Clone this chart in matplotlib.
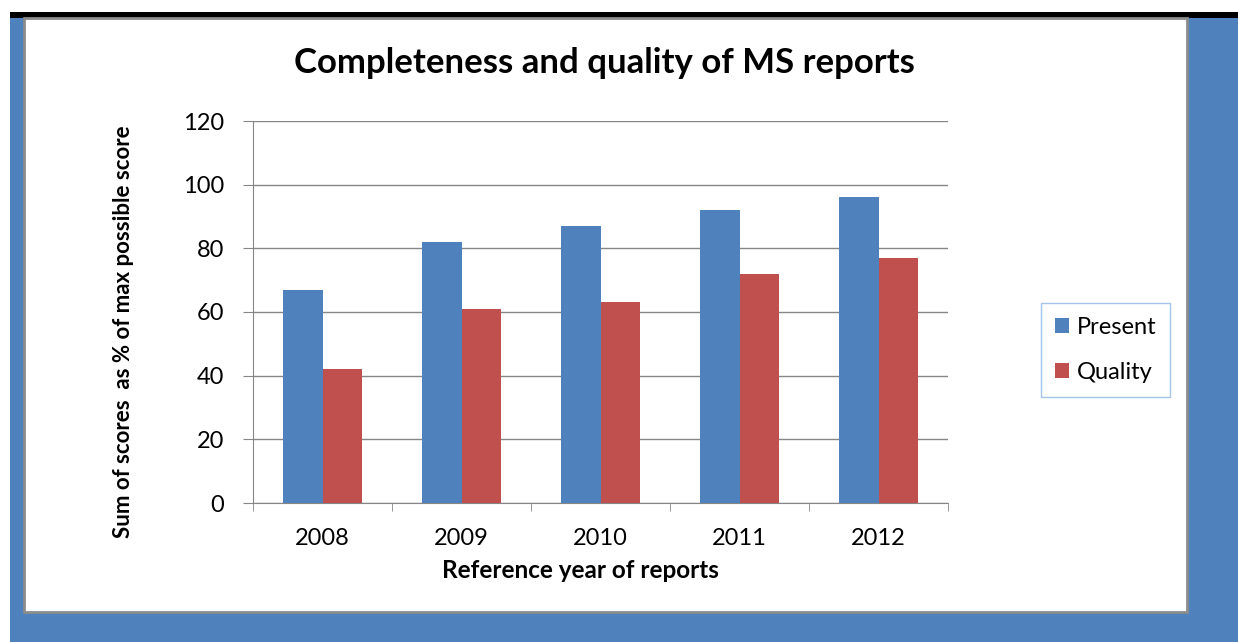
import matplotlib.pyplot as plt
import matplotlib.patches as patches
import numpy as np

# data
years = ["2008", "2009", "2010", "2011", "2012"]
present = [67, 82, 87, 92, 96]
quality = [42, 61, 63, 72, 77]
yticks = [0, 20, 40, 60, 80, 100, 120]

blue = "#4f81bd"
red = "#c0504d"

plt.rcParams['font.family'] = ['Lato', 'DejaVu Sans']

fig = plt.figure(figsize=(12.38, 6.42), dpi=100)
W, H = 1238, 642

def box(x0, y0, x1, y1, **kw):
    # rectangle in pixel coords (y from top)
    fig.patches.append(patches.Rectangle((x0 / W, 1 - y1 / H), (x1 - x0) / W, (y1 - y0) / H,
                                         transform=fig.transFigure, **kw))

# blue slide background, black line at top, white chart frame
box(10, 12, 1238, 642, facecolor=blue, edgecolor="none", zorder=0)
box(10, 12, 1238, 18, facecolor="black", edgecolor="none", zorder=1)
box(24, 18, 1187, 612, facecolor="white", edgecolor="#8c8c8c", linewidth=2, zorder=1)

ax = fig.add_axes([253 / W, 1 - 503 / H, (948 - 253) / W, (503 - 121) / H])
ax.set_zorder(2)
ax.patch.set_alpha(0)

x = np.arange(len(years))
w = 0.285
ax.bar(x - w / 2, present, w, color=blue, label="Present", zorder=3)
ax.bar(x + w / 2, quality, w, color=red, label="Quality", zorder=3)

ax.set_xlim(-0.5, len(years) - 0.5)
ax.set_ylim(0, 120)
ax.set_yticks(yticks)
ax.set_yticklabels([str(v) for v in yticks], fontsize=17)
ax.set_xticks(x)
ax.set_xticklabels(years, fontsize=17)
ax.tick_params(axis="x", length=0, pad=18)
# tick marks between the categories
ax.set_xticks(np.arange(-0.5, len(years)), minor=True)
ax.tick_params(axis="x", which="minor", length=6, color="#868686")
ax.tick_params(axis="y", length=7, color="#868686", pad=14)
ax.grid(axis="y", color="#868686", linewidth=1, zorder=0)
for s in ["top", "right"]:
    ax.spines[s].set_visible(False)
ax.spines["left"].set_color("#868686")
ax.spines["bottom"].set_color("#868686")

ax.set_xlabel("Reference year of reports", fontsize=17.5, fontweight="bold", va="center")
ax.xaxis.set_label_coords((580 - 253) / (948 - 253), (503 - 571) / (503 - 121))
ax.set_ylabel("Sum of scores  as % of max possible score", fontsize=16, fontweight="bold", va="center")
ax.yaxis.set_label_coords((124 - 253) / (948 - 253), (503 - 332) / (503 - 121))

fig.text(604 / W, 1 - 63 / H, "Completeness and quality of MS reports", fontsize=25,
         fontweight="bold", ha="center", va="center")

leg = ax.legend(loc="center left", bbox_to_anchor=(1041 / W, 1 - 350 / H), bbox_transform=fig.transFigure,
                fontsize=17, frameon=True, fancybox=False, edgecolor="#8eb4e3", handlelength=0.6,
                handleheight=0.6, labelspacing=1.0, borderpad=0.6, handletextpad=0.3, borderaxespad=0)
leg.get_frame().set_linewidth(1)

fig.savefig("out.png", dpi=100)
